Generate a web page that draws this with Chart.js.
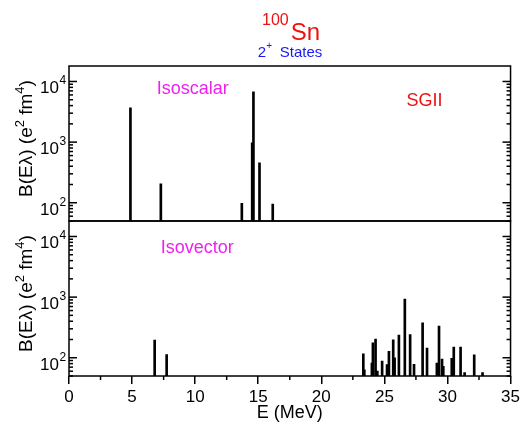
<!DOCTYPE html>
<html>
<head>
<meta charset="utf-8">
<script src="https://cdn.jsdelivr.net/npm/chart.js"></script>
<style>
  html, body { margin: 0; padding: 0; background: #fff; }
  #wrap { width: 523px; height: 425px; }
</style>
</head>
<body>
<div id="wrap"><canvas id="Chart" width="523" height="425"></canvas></div>
<script>
// excitation energies (MeV) and strengths B(E2) (e^2 fm^4)
const isoscalarE = [4.87, 7.28, 13.70, 14.52, 14.62, 15.10, 16.15];
const isoscalarB = [3670, 206, 98, 975, 6740, 456, 95];

const isovectorE = [6.79, 7.74, 23.33, 23.41, 24.01, 24.09, 24.30, 24.44, 24.82, 25.21,
  25.36, 25.70, 25.81, 26.15, 26.62, 27.04, 27.35, 28.03, 28.38, 29.16,
  29.33, 29.57, 29.67, 30.34, 30.50, 31.04, 31.36, 32.12, 32.78];
const isovectorB = [196, 113, 116, 63, 82, 177, 203, 60, 88, 77,
  127, 198, 100, 237, 930, 240, 78, 377, 145, 82,
  332, 95, 72, 98, 150, 150, 57, 112, 57];

const xTicks = [0, 5, 10, 15, 20, 25, 30, 35];
const yTicks = [100, 1000, 10000];

const FONT = "'Liberation Sans', Arial, Helvetica, sans-serif";

function toPoints(xs, ys) {
  return xs.map((x, i) => ({ x: x, y: ys[i] }));
}

function line(ctx, x1, y1, x2, y2) {
  ctx.beginPath();
  ctx.moveTo(x1, y1);
  ctx.lineTo(x2, y2);
  ctx.stroke();
}

// rotated axis title with real superscripts: B(Eλ) (e^2 fm^4)
function drawYTitle(ctx, cx, cy) {
  const parts = [
    ["B(E\u03bb) (e", 19, 0],
    ["2", 13, -8],
    [" fm", 19, 0],
    ["4", 13, -8],
    [")", 19, 0]
  ];
  let total = 0;
  for (const p of parts) {
    ctx.font = p[1] + "px " + FONT;
    total += ctx.measureText(p[0]).width;
  }
  ctx.save();
  ctx.translate(cx, cy);
  ctx.rotate(-Math.PI / 2);
  ctx.textAlign = "left";
  ctx.textBaseline = "alphabetic";
  let pos = -total / 2;
  for (const p of parts) {
    ctx.font = p[1] + "px " + FONT;
    ctx.fillText(p[0], pos, p[2]);
    pos += ctx.measureText(p[0]).width;
  }
  ctx.restore();
}

// boxes, inward log ticks on both sides, 10^n labels, header and panel notes
const decorations = {
  id: "decorations",
  afterDraw(chart) {
    const ctx = chart.ctx;
    const x = chart.scales.x;
    const panels = [chart.scales.yTop, chart.scales.yBot];
    ctx.save();
    ctx.strokeStyle = "#000";
    ctx.fillStyle = "#000";
    ctx.lineWidth = 1.5;

    // minor x ticks between the labelled ones
    for (let i = 0; i < xTicks.length - 1; i++) {
      const px = x.getPixelForValue((xTicks[i] + xTicks[i + 1]) / 2);
      line(ctx, px, x.top, px, x.top + 4);
    }

    for (const y of panels) {
      ctx.strokeRect(x.left, y.top, x.right - x.left, y.bottom - y.top);
      for (let d = 10; d <= 10000; d *= 10) {
        for (let k = 1; k < 10; k++) {
          const v = k * d;
          if (v < y.min || v > y.max) continue;
          const py = y.getPixelForValue(v);
          const len = k === 1 ? 8 : 4;
          line(ctx, x.left, py, x.left + len, py);
          line(ctx, x.right, py, x.right - len, py);
        }
      }
      ctx.textBaseline = "alphabetic";
      for (const v of yTicks) {
        const py = y.getPixelForValue(v);
        ctx.font = "17px " + FONT;
        ctx.textAlign = "right";
        ctx.fillText("10", x.left - 10, py + 12);
        ctx.font = "12px " + FONT;
        ctx.textAlign = "left";
        ctx.fillText(String(Math.round(Math.log10(v))), x.left - 9.5, py + 3);
      }
      drawYTitle(ctx, 32, (y.top + y.bottom) / 2 - 5);
    }

    // header
    const cx = (x.left + x.right) / 2;
    ctx.fillStyle = "#ee1111";
    ctx.font = "24px " + FONT;
    ctx.textAlign = "left";
    ctx.fillText("Sn", cx + 1, 40);
    ctx.font = "16px " + FONT;
    ctx.textAlign = "right";
    ctx.fillText("100", cx - 1, 25);
    ctx.fillStyle = "#1a1aee";
    ctx.textAlign = "left";
    ctx.font = "15px " + FONT;
    ctx.fillText("2", cx - 32, 57);
    ctx.font = "10px " + FONT;
    ctx.fillText("+", cx - 23.5, 49);
    ctx.font = "15px " + FONT;
    ctx.fillText("States", cx - 10, 57);

    // panel notes
    ctx.textBaseline = "middle";
    ctx.font = "18px " + FONT;
    const top = chart.scales.yTop, bot = chart.scales.yBot;
    ctx.fillStyle = "#ee22ee";
    ctx.fillText("Isoscalar", x.getPixelForValue(6.95), top.getPixelForValue(7400));
    ctx.fillText("Isovector", x.getPixelForValue(7.27), bot.getPixelForValue(6400));
    ctx.fillStyle = "#ee1111";
    ctx.fillText("SGII", x.getPixelForValue(26.75), top.getPixelForValue(4700));
    ctx.restore();
  }
};

function logAxis() {
  return {
    type: "logarithmic",
    position: "left",
    stack: "panels",
    stackWeight: 1,
    min: 50,
    max: 18000,
    grid: { display: false },
    border: { display: false },
    ticks: { display: false },
    afterFit: (s) => { s.width = 58; }
  };
}

new Chart(document.getElementById("Chart"), {
  type: "bar",
  data: {
    datasets: [
      {
        data: toPoints(isoscalarE, isoscalarB),
        yAxisID: "yTop",
        backgroundColor: "#000",
        barThickness: 2,
        grouped: false
      },
      {
        data: toPoints(isovectorE, isovectorB),
        yAxisID: "yBot",
        backgroundColor: "#000",
        barThickness: 2,
        grouped: false
      }
    ]
  },
  options: {
    responsive: false,
    animation: false,
    layout: { padding: { left: 11, right: 12, top: 66, bottom: 0 } },
    plugins: {
      legend: { display: false },
      tooltip: { enabled: false }
    },
    scales: {
      x: {
        type: "linear",
        min: 0,
        max: 35,
        offset: false,
        afterBuildTicks: (s) => { s.ticks = xTicks.map((v) => ({ value: v })); },
        ticks: {
          color: "#000",
          font: { family: FONT, size: 17 },
          padding: 3,
          maxRotation: 0,
          autoSkip: false
        },
        grid: {
          offset: false,
          drawOnChartArea: false,
          drawTicks: true,
          tickLength: 8,
          color: "#000",
          lineWidth: 1.5
        },
        border: { display: false },
        title: {
          display: true,
          text: "E (MeV)",
          color: "#000",
          font: { family: FONT, size: 18 },
          padding: { top: 0, bottom: 1 }
        },
        afterFit: (s) => { s.height = 49; }
      },
      yBot: logAxis(),
      yTop: logAxis()
    }
  },
  plugins: [decorations]
});
</script>
</body>
</html>
